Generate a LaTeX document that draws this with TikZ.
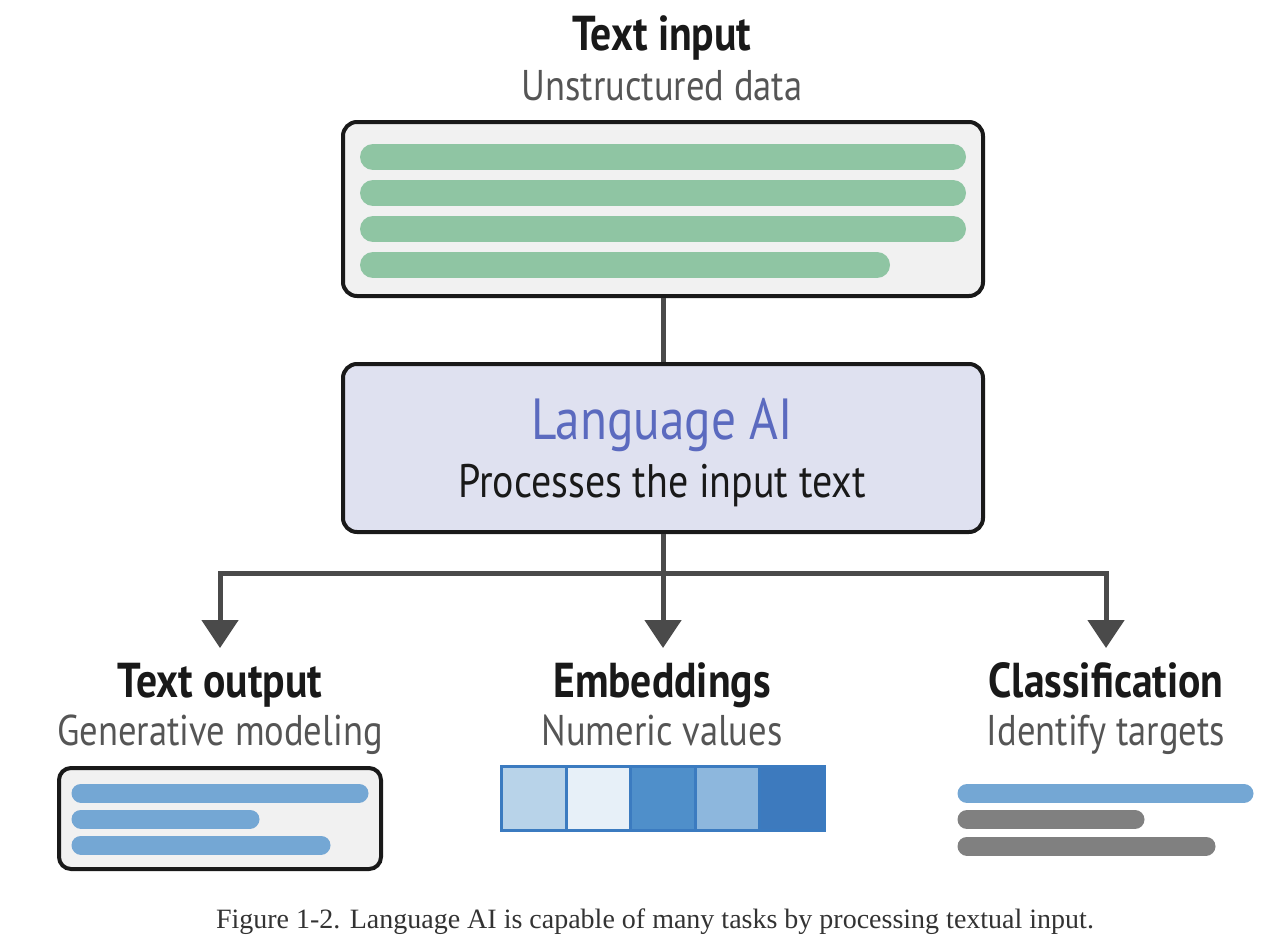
\documentclass[tikz,border=0pt]{standalone}
\usepackage{fontspec}
\setmainfont{Liberation Serif}
\newfontfamily\dsans[FakeStretch=0.85]{PT Sans}
\usetikzlibrary{arrows.meta}
\definecolor{boxfill}{HTML}{F1F1F1}
\definecolor{aifill}{HTML}{DFE1F0}
\definecolor{aiblue}{HTML}{5B6ABF}
\definecolor{green}{HTML}{8FC5A3}
\definecolor{bblue}{HTML}{74A7D4}
\definecolor{cgray}{HTML}{808080}
\definecolor{conn}{HTML}{4A4A4A}
\definecolor{subgray}{HTML}{555555}
\definecolor{eborder}{HTML}{3B7BC0}
\definecolor{e1}{HTML}{B8D3E9}
\definecolor{e2}{HTML}{E7F0F8}
\definecolor{e3}{HTML}{4F8FCA}
\definecolor{e4}{HTML}{8DB7DD}
\definecolor{e5}{HTML}{3D7ABE}
\tikzset{
  panel/.style={draw=black!90, line width=4pt, rounded corners=14pt, fill=boxfill, inner sep=0pt},
  head/.style={anchor=base, inner sep=0pt, font=\dsans\bfseries\fontsize{49}{49}\selectfont, text=black!90},
  sub/.style={anchor=base, inner sep=0pt, font=\dsans\fontsize{43}{43}\selectfont, text=subgray},
  connector/.style={draw=conn, line width=5pt},
  arrowed/.style={connector, -{Triangle[length=28pt,width=36pt]}},
  bar/.style={line cap=round},
  cell/.style={draw=eborder, line width=3pt, minimum width=64.6pt, minimum height=64pt, inner sep=0pt, outer sep=0pt}
}
\begin{document}
\begin{tikzpicture}[x=1pt,y=-1pt]
\useasboundingbox (0,0) rectangle (1284,950);

% Text input
\node[head] (tin) at (662,51) {Text input};
\node[sub] (tinsub) at (662,100) {Unstructured data};
\node[panel, minimum width=640pt, minimum height=174pt] (inbox) at (663,209) {};
\draw[bar, line width=26pt, green] (373,157) -- (953,157);
\draw[bar, line width=26pt, green] (373,193) -- (953,193);
\draw[bar, line width=26pt, green] (373,229) -- (953,229);
\draw[bar, line width=26pt, green] (373,265) -- (877,265);

% Language AI
\node[panel, fill=aifill, minimum width=640pt, minimum height=168pt] (ai) at (663,448) {};
\node[anchor=base, inner sep=0pt, font=\dsans\fontsize{58}{58}\selectfont, text=aiblue] (ait) at (662,439) {Language AI};
\node[anchor=base, inner sep=0pt, font=\dsans\fontsize{47}{47}\selectfont, text=black!90] (aisub) at (662,497) {Processes the input text};

\coordinate (j) at (663,573);
\coordinate (t1) at (220,648);
\coordinate (t2) at (663,648);
\coordinate (t3) at (1106,648);
\draw[connector] (inbox.south) -- (ai.north);
\draw[arrowed] (ai.south) -- (t2);
\draw[arrowed] (j) -| (t1);
\draw[arrowed] (j) -| (t3);

% Text output
\node[head] (tout) at (220,697) {Text output};
\node[sub] (toutsub) at (220,745) {Generative modeling};
\node[panel, minimum width=322pt, minimum height=101pt, rounded corners=12pt] (outbox) at (220,818.5) {};
\draw[bar, line width=19pt, bblue] (81,793) -- (359,793);
\draw[bar, line width=19pt, bblue] (81,819) -- (250,819);
\draw[bar, line width=19pt, bblue] (81,845) -- (321,845);

% Embeddings
\node[head] (emb) at (662,697) {Embeddings};
\node[sub] (embsub) at (662,745) {Numeric values};
\node[cell, fill=e1] (c1) at (533.8,798.5) {};
\node[cell, fill=e2, anchor=west] (c2) at (c1.east) {};
\node[cell, fill=e3, anchor=west] (c3) at (c2.east) {};
\node[cell, fill=e4, anchor=west] (c4) at (c3.east) {};
\node[cell, fill=e5, anchor=west] (c5) at (c4.east) {};

% Classification
\node[head] (cls) at (1106,697) {Classification};
\node[sub] (clssub) at (1106,745) {Identify targets};
\draw[bar, line width=19pt, bblue] (967,793.5) -- (1244,793.5);
\draw[bar, line width=19pt, cgray] (967,819.5) -- (1135,819.5);
\draw[bar, line width=19pt, cgray] (967,846) -- (1206,846);

% Caption
\node[anchor=base, inner sep=0pt, font=\fontsize{28}{28}\selectfont, text=black!80] (cap) at (655,928) {Figure 1-2. Language AI is capable of many tasks by processing textual input.};
\end{tikzpicture}
\end{document}
